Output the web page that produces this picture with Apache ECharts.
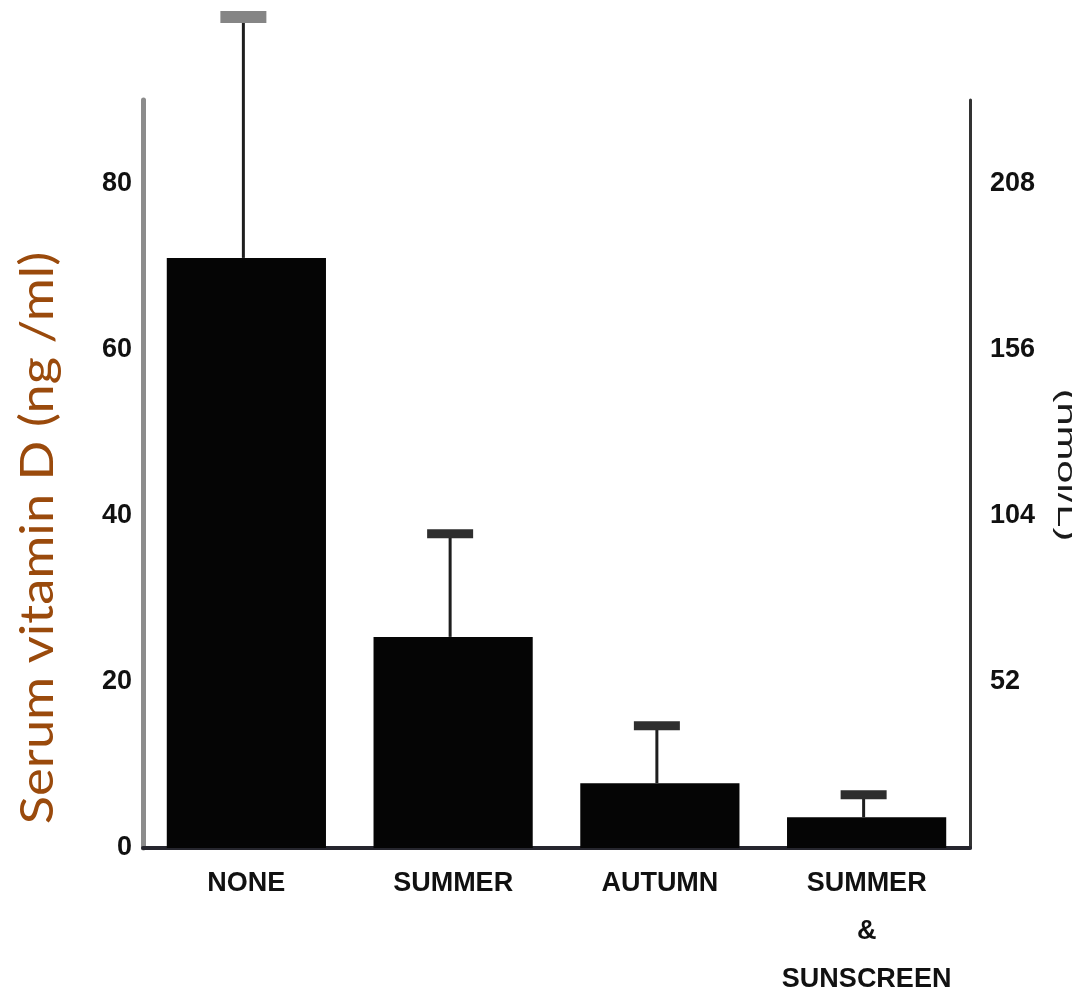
<!DOCTYPE html>
<html>
<head>
<meta charset="utf-8">
<title>Serum vitamin D</title>
<script src="https://cdn.jsdelivr.net/npm/echarts@6/dist/echarts.min.js"></script>
<style>
  html, body { margin: 0; padding: 0; background: #ffffff; }
  #chart { width: 1072px; height: 1004px; }
</style>
</head>
<body>
<div id="chart"></div>
<script>
// Serum vitamin D by sun exposure group (mean with upper error bar)
const categories = ['NONE', 'SUMMER', 'AUTUMN', 'SUMMER\n&\nSUNSCREEN'];
const meanValues = [71, 25.4, 7.8, 3.7];          // ng/ml
const upperErrorValues = [100, 37.8, 14.7, 6.4];  // ng/ml, top of error bar
const leftTicks = [0, 20, 40, 60, 80];            // ng/ml
const rightTicks = [52, 104, 156, 208];           // nmol/L
const nmolPerNg = 2.6;

const tickFont = '"Liberation Sans", Arial, sans-serif';

const chart = echarts.init(document.getElementById('chart'));

chart.setOption({
  backgroundColor: '#ffffff',
  animation: false,
  grid: { left: 143, right: 102, top: 100, bottom: 156 },
  xAxis: {
    type: 'category',
    data: categories,
    axisLine: { show: true, lineStyle: { color: '#26262e', width: 4 } },
    axisTick: { show: false },
    axisLabel: {
      interval: 0,
      color: '#111111',
      fontFamily: tickFont,
      fontWeight: 'bold',
      fontSize: 27,
      lineHeight: 48,
      margin: 12
    }
  },
  yAxis: [
    {
      type: 'value',
      min: 0,
      max: 90,
      interval: 20,
      axisLine: { show: true, lineStyle: { color: '#8c8c8c', width: 5 } },
      axisTick: { show: false },
      splitLine: { show: false },
      axisLabel: {
        color: '#111111',
        fontFamily: tickFont,
        fontWeight: 'bold',
        fontSize: 27,
        margin: 11,
        showMaxLabel: false,
        formatter: v => (leftTicks.includes(v) ? String(v) : '')
      }
    },
    {
      type: 'value',
      position: 'right',
      min: 0,
      max: 90 * nmolPerNg,
      interval: 52,
      axisLine: { show: true, lineStyle: { color: '#333333', width: 3 } },
      axisTick: { show: false },
      splitLine: { show: false },
      axisLabel: {
        color: '#111111',
        fontFamily: tickFont,
        fontWeight: 'bold',
        fontSize: 27,
        margin: 20,
        showMinLabel: false,
        showMaxLabel: false,
        formatter: v => (rightTicks.includes(v) ? String(v) : '')
      }
    }
  ],
  series: [
    {
      type: 'bar',
      data: meanValues,
      barWidth: '77%',
      itemStyle: { color: '#050505' },
      z: 2
    },
    {
      type: 'custom',
      clip: false,
      z: 3,
      data: categories.map((c, i) => [i, meanValues[i], upperErrorValues[i]]),
      renderItem: function (params, api) {
        const base = api.coord([api.value(0), api.value(1)]);
        const top = api.coord([api.value(0), api.value(2)]);
        const x = base[0] - 3;
        const capColor = params.dataIndex === 0 ? '#858585' : '#2e2e2e';
        const capH = params.dataIndex === 0 ? 12 : 9;
        return {
          type: 'group',
          children: [
            {
              type: 'line',
              shape: { x1: x, y1: base[1], x2: x, y2: top[1] },
              style: { stroke: '#1e1e1e', lineWidth: 3 }
            },
            {
              type: 'rect',
              shape: { x: x - 23, y: top[1] - capH / 2, width: 46, height: capH },
              style: { fill: capColor }
            }
          ]
        };
      }
    }
  ],
  graphic: [
    {
      type: 'text',
      x: 38,
      y: 538,
      rotation: Math.PI / 2,
      scaleX: 1.14,
      style: {
        text: 'Serum vitamin D (ng /ml)',
        font: '46px Lato, "Open Sans", sans-serif',
        fill: '#9a4a0c',
        align: 'center',
        verticalAlign: 'middle',
        textAlign: 'center',
        textVerticalAlign: 'middle'
      }
    },
    {
      type: 'text',
      x: 1065,
      y: 465,
      rotation: -Math.PI / 2,
      scaleX: 1.6,
      style: {
        text: '(nmol/L)',
        font: '26px "Liberation Sans", Arial, sans-serif',
        fill: '#1a1a1a',
        align: 'center',
        verticalAlign: 'middle',
        textAlign: 'center',
        textVerticalAlign: 'middle'
      }
    }
  ]
});
</script>
</body>
</html>
